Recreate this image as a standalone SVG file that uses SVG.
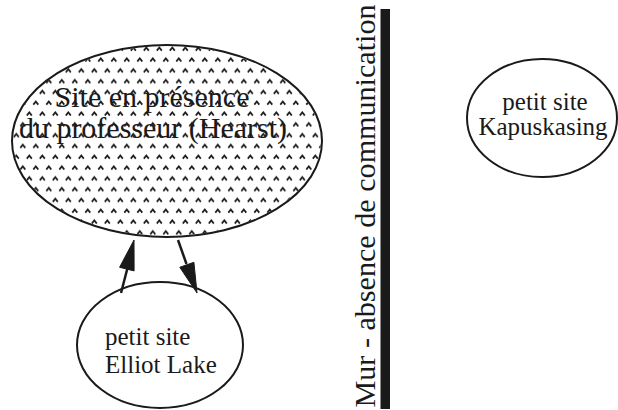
<svg xmlns="http://www.w3.org/2000/svg" width="618" height="410" viewBox="0 0 618 410">
<style>
  .node { fill: #fff; stroke: #1a1a1a; stroke-width: 2; }
  .lbl { font-family: "Liberation Serif", "Times New Roman", serif; fill: #1a1a1a; }
  .conn { stroke: #1a1a1a; stroke-width: 2.5; fill: none; }
  .head { fill: #1a1a1a; stroke: #1a1a1a; stroke-width: 1; stroke-linejoin: miter; }
</style>
<defs>
  <pattern id="carets" patternUnits="userSpaceOnUse" width="13" height="21.6">
    <path d="M0.8,7.5 L3.3,4.3 L5.8,7.5 M7.3,18.3 L9.8,15.1 L12.3,18.3" fill="none" stroke="#1a1a1a" stroke-width="1.7"/>
  </pattern>
</defs>
<rect width="618" height="410" fill="#fff"/>

<g id="hearst">
  <ellipse class="node" cx="167" cy="141" rx="155" ry="96"/>
  <text class="lbl" font-size="30" text-anchor="middle" x="152" y="107">Site en présence</text>
  <text class="lbl" font-size="30" text-anchor="middle" x="153" y="138">du professeur (Hearst)</text>
  <ellipse cx="167" cy="141" rx="154" ry="95" fill="url(#carets)" stroke="none"/>
</g>

<g id="elliot">
  <ellipse class="node" cx="160" cy="345" rx="83" ry="63"/>
  <text class="lbl" font-size="25" x="105" y="345">petit site</text>
  <text class="lbl" font-size="25" x="105" y="373">Elliot Lake</text>
</g>

<g id="kapuskasing">
  <ellipse class="node" cx="542" cy="118" rx="75" ry="59"/>
  <text class="lbl" font-size="25" text-anchor="middle" x="545" y="110">petit site</text>
  <text class="lbl" font-size="25" text-anchor="middle" x="543" y="135">Kapuskasing</text>
</g>

<g id="mur">
  <rect x="380.5" y="9" width="9.5" height="400" fill="#1a1a1a"/>
  <text class="lbl" font-size="30" text-anchor="middle" textLength="403" lengthAdjust="spacingAndGlyphs" transform="translate(375,206) rotate(-90)">Mur - absence de communication</text>
</g>

<g id="connectors">
  <path class="conn" d="M121,293 L127.5,268"/>
  <polygon class="head" points="134,240 134.1,270.9 119.6,267.3"/>
  <path class="conn" d="M178,240 L186.5,264"/>
  <polygon class="head" points="197,293 193.9,262.3 179.8,267.3"/>
</g>
</svg>
